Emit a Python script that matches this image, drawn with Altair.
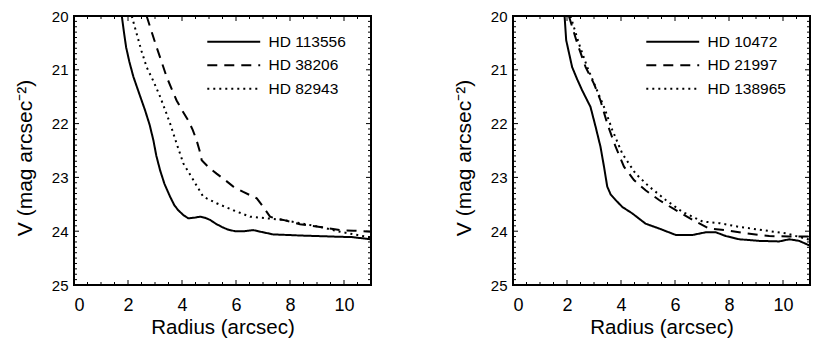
import altair as alt
import pandas as pd

# ---------------- data ----------------
left_names = ["HD 113556", "HD 38206", "HD 82943"]
right_names = ["HD 10472", "HD 21997", "HD 138965"]

# left panel
l1_x = [1.77, 1.85, 1.93, 2.05, 2.2, 2.4, 2.63, 2.8, 2.94, 3.05, 3.19, 3.35, 3.56, 3.72, 3.86, 4.05, 4.23,
        4.45, 4.67, 4.85, 5.04, 5.25, 5.47, 5.7, 5.96, 6.3, 6.64, 7.0, 7.38, 7.9, 8.37, 9.0, 9.6, 10.3, 11.0]
l1_y = [20.0, 20.3, 20.58, 20.85, 21.13, 21.42, 21.75, 22.02, 22.31, 22.6, 22.87, 23.12, 23.36, 23.52, 23.61,
        23.7, 23.76, 23.75, 23.73, 23.75, 23.79, 23.86, 23.92, 23.97, 24.0, 24.0, 23.98, 24.02, 24.06, 24.07,
        24.08, 24.09, 24.1, 24.11, 24.15]
l2_x = [2.69, 2.88, 3.06, 3.25, 3.43, 3.62, 3.8, 4.0, 4.23, 4.4, 4.54, 4.65, 4.73, 5.0, 5.28, 5.6, 5.9, 6.27,
        6.77, 7.01, 7.26, 7.5, 7.75, 8.37, 9.11, 9.85, 10.35, 11.0]
l2_y = [20.0, 20.3, 20.58, 20.86, 21.13, 21.36, 21.57, 21.75, 21.94, 22.12, 22.31, 22.5, 22.68, 22.82, 22.93,
        23.05, 23.17, 23.27, 23.39, 23.55, 23.73, 23.77, 23.79, 23.87, 23.92, 23.98, 23.99, 24.01]
l3_x = [2.14, 2.32, 2.5, 2.69, 2.95, 3.19, 3.4, 3.56, 3.8, 4.05, 4.42, 4.79, 5.28, 5.9, 6.52, 7.14, 7.75, 8.37,
        9.11, 9.85, 10.5, 11.0]
l3_y = [20.0, 20.33, 20.65, 20.95, 21.22, 21.5, 21.78, 22.0, 22.37, 22.74, 23.05, 23.36, 23.48, 23.61, 23.73,
        23.76, 23.79, 23.85, 23.92, 24.01, 24.07, 24.12]

# right panel
r1_x = [1.91, 1.97, 2.08, 2.19, 2.38, 2.56, 2.72, 2.87, 3.06, 3.24, 3.37, 3.49, 3.62, 3.8, 4.05, 4.42, 4.91,
        5.41, 6.03, 6.65, 7.14, 7.51, 7.88, 8.38, 9.12, 9.86, 10.23, 10.6, 11.0]
r1_y = [20.0, 20.45, 20.7, 20.95, 21.18, 21.38, 21.54, 21.69, 22.06, 22.43, 22.8, 23.17, 23.32, 23.42, 23.55,
        23.67, 23.86, 23.95, 24.07, 24.07, 24.02, 24.02, 24.09, 24.15, 24.18, 24.19, 24.15, 24.18, 24.27]
r2_x = [2.07, 2.38, 2.69, 3.0, 3.24, 3.49, 3.8, 4.11, 4.48, 4.91, 5.41, 6.03, 6.65, 7.26, 7.88, 8.63, 9.49,
        10.23, 11.0]
r2_y = [20.0, 20.51, 20.95, 21.26, 21.57, 22.0, 22.43, 22.8, 23.05, 23.24, 23.42, 23.61, 23.79, 23.95, 23.98,
        24.04, 24.09, 24.1, 24.1]
r3_x = [2.13, 2.44, 2.75, 3.06, 3.37, 3.68, 4.05, 4.54, 5.04, 5.66, 6.27, 7.02, 7.64, 8.38, 9.24, 10.11, 11.0]
r3_y = [20.0, 20.51, 20.95, 21.32, 21.69, 22.12, 22.56, 22.93, 23.17, 23.42, 23.64, 23.82, 23.85, 23.92,
        23.98, 24.04, 24.16]

# axis ticks
x_major = [0, 2, 4, 6, 8, 10]
x_minor = [v / 2 for v in range(0, 23) if v % 4 != 0]
y_major = [20, 21, 22, 23, 24, 25]
y_minor = [20 + v / 10 for v in range(0, 51) if v % 10 != 0]

# ---------------- styles ----------------
W, H = 297, 269
FONT = "Liberation Sans"
DASHES = [[1, 0], [10, 7], [2, 4]]


def make_df(names, series):
    rows = []
    for name, (xs, ys) in zip(names, series):
        for i, (a, b) in enumerate(zip(xs, ys)):
            rows.append({"star": name, "r": a, "v": b, "i": i})
    return pd.DataFrame(rows)


def panel(names, series):
    df = make_df(names, series)
    xenc = alt.X("r:Q", scale=alt.Scale(domain=[0, 11], nice=False, zero=False),
                 axis=alt.Axis(values=x_major, title="Radius (arcsec)"))
    yenc = alt.Y("v:Q", scale=alt.Scale(domain=[20, 25], reverse=True, nice=False, zero=False),
                 axis=alt.Axis(values=y_major, title="V (mag arcsec⁻²)", titleY=H / 2 + 7))
    lines = alt.Chart(df).mark_line(color="black", strokeWidth=2, clip=True).encode(
        x=xenc, y=yenc, order="i:Q",
        strokeDash=alt.StrokeDash(
            "star:N", sort=names,
            scale=alt.Scale(domain=names, range=DASHES),
            legend=alt.Legend(title=None, orient="none", legendX=152, legendY=18,
                              symbolType="M-5,0H5", symbolSize=112, symbolStrokeWidth=2,
                              symbolStrokeColor="black", labelFont=FONT, labelFontSize=15.5,
                              labelColor="black", labelOffset=27, rowPadding=6.5, padding=0)))
    xmaj = pd.DataFrame({"r": x_major})
    xmin = pd.DataFrame({"r": x_minor})
    ymaj = pd.DataFrame({"v": y_major})
    ymin = pd.DataFrame({"v": y_minor})
    rule = dict(color="black", strokeWidth=1)
    layers = [lines]
    for d, ln in ((xmaj, 5), (xmin, 3)):
        layers.append(alt.Chart(d).mark_rule(**rule).encode(x=xenc, y=alt.value(H), y2=alt.value(H - ln)))
        layers.append(alt.Chart(d).mark_rule(**rule).encode(x=xenc, y=alt.value(0), y2=alt.value(ln)))
    for d, ln in ((ymaj, 5), (ymin, 3)):
        layers.append(alt.Chart(d).mark_rule(**rule).encode(y=yenc, x=alt.value(0), x2=alt.value(ln)))
        layers.append(alt.Chart(d).mark_rule(**rule).encode(y=yenc, x=alt.value(W), x2=alt.value(W - ln)))
    return alt.layer(*layers).properties(width=W, height=H)


left = panel(left_names, [(l1_x, l1_y), (l2_x, l2_y), (l3_x, l3_y)])
right = panel(right_names, [(r1_x, r1_y), (r2_x, r2_y), (r3_x, r3_y)])

chart = (
    alt.hconcat(left, right, spacing=79)
    .resolve_scale(strokeDash="independent")
    .properties(padding={"left": 5, "top": 0, "right": 0, "bottom": 0}, background="white")
    .configure_view(stroke="black", strokeWidth=2)
    .configure_axis(labelFont=FONT, titleFont=FONT, labelColor="black", titleColor="black",
                    ticks=False, domain=False, grid=False, titleFontWeight="normal")
    .configure_axisX(labelFontSize=18, titleFontSize=20.5, labelPadding=11, titlePadding=3)
    .configure_axisY(labelFontSize=15, titleFontSize=21, labelPadding=6, titlePadding=16)
)

chart.save("out.html", embed_options={"renderer": "svg", "actions": False})
